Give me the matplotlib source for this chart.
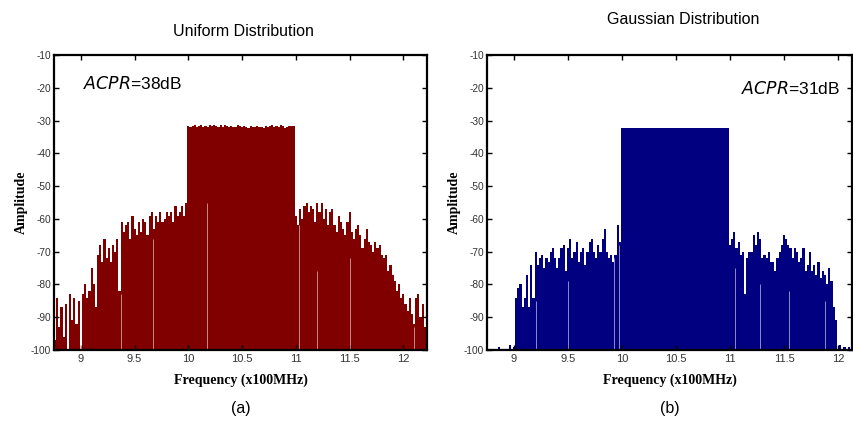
import numpy as np
import matplotlib
matplotlib.use('Agg')
import matplotlib.pyplot as plt

plt.rcParams['font.family'] = ['Liberation Sans', 'DejaVu Sans']
plt.rcParams['axes.unicode_minus'] = False

STEP = 0.02

# (a) uniform distribution (dB)
a_low_start = 8.76
a_low = [-97, -84, -93, -87, -96, -86, -100, -83, -91, -84, -92, -85, -100,
         -83, -80, -84, -82, -75, -80, -87, -71, -68, -73, -66, -72, -69, -73,
         -68, -70, -66, -82, -61, -64, -62, -61, -66, -59, -63, -65, -61, -64,
         -60, -61, -65, -59, -58, -63, -59, -61, -58, -61, -60, -58, -59, -58,
         -61, -56, -59, -58, -56, -59, -55]
a_band_start = 10.00
a_band = [-31.6, -31.9, -31.7, -31.5, -32.0, -31.8, -31.4, -31.9, -31.6, -32.1,
          -31.5, -31.8, -31.2, -31.7, -32.0, -31.5, -31.9, -31.3, -31.8, -32.1,
          -31.6, -31.9, -32.0, -31.5, -31.8, -32.1, -31.6, -31.9, -32.2, -31.7,
          -31.9, -32.0, -31.8, -32.1, -31.9, -32.2, -31.6, -32.0, -31.8, -31.5,
          -32.0, -31.7, -31.9, -31.4, -31.8, -32.3, -31.9, -31.6, -31.8, -31.7]
a_high_start = 11.00
a_high = [-59, -62, -57, -60, -56, -55, -58, -56, -57, -61, -55, -58, -55, -60,
          -57, -62, -58, -57, -62, -64, -59, -61, -63, -65, -61, -58, -64, -66,
          -63, -62, -65, -69, -66, -63, -67, -68, -70, -67, -69, -68, -71, -72,
          -71, -76, -74, -77, -79, -82, -80, -84, -83, -86, -88, -84, -89, -92,
          -84, -83, -90, -86, -93, -95]
a_null_f = [9.00, 9.37, 9.67, 10.17, 11.03, 11.20, 11.50, 12.10]
a_null_top = [-86, -83, -66, -55, -62, -76, -72, -93]

# (b) gaussian distribution
b_low_start = 8.76
b_low = [-100, -100, -100, -100, -100, -99, -100, -100, -100, -100, -98.5, -100,
         -99, -84, -81, -80, -87, -84, -77, -87, -74, -84, -70, -74, -72, -71,
         -75, -72, -73, -70, -69, -72, -75, -72, -69, -68, -76, -69, -66, -72,
         -70, -67, -73, -70, -69, -74, -70, -67, -66, -70, -72, -68, -70, -66,
         -63, -70, -72, -71, -73, -71, -62, -67]
b_band_start = 10.00
b_band = [-32.3, -32.4, -32.2, -32.3, -32.4, -32.3, -32.2, -32.4, -32.3, -32.3,
          -32.2, -32.4, -32.3, -32.3, -32.4, -32.2, -32.3, -32.4, -32.3, -32.2,
          -32.3, -32.4, -32.3, -32.2, -32.3, -32.4, -32.3, -32.3, -32.2, -32.4,
          -32.3, -32.2, -32.3, -32.4, -32.3, -32.3, -32.2, -32.4, -32.3, -32.3,
          -32.2, -32.3, -32.4, -32.3, -32.2, -32.3, -32.4, -32.3, -32.3, -32.2]
b_high_start = 11.00
b_high = [-68, -66, -64, -69, -67, -71, -70, -83, -72, -70, -70, -65, -68, -64,
          -66, -72, -71, -72, -70, -73, -73, -76, -72, -70, -68, -65, -66, -68,
          -69, -72, -69, -70, -73, -72, -69, -76, -74, -70, -76, -74, -77, -73,
          -78, -76, -77, -80, -75, -79, -87, -91,
          -99.7, -98.6, -100, -99.2, -100, -99.2, -100]
b_null_f = [9.20, 9.50, 9.93, 9.97, 11.05, 11.28, 11.55, 11.88]
b_null_top = [-85, -79, -72, -68, -75, -80, -82, -85]

panels = [
    dict(segs=[(a_low_start, a_low), (a_band_start, a_band), (a_high_start, a_high)],
         nf=a_null_f, nt=a_null_top, color='#800000', xlim=(8.75, 12.22),
         title='Uniform Distribution', ttl_x=0.285, ttl_y=0.925, acpr='38',
         acpr_x=0.078, acpr_y=0.905, acpr_ha='left', tag='(a)',
         rect=[0.0632, 0.1765, 0.4368, 0.694]),
    dict(segs=[(b_low_start, b_low), (b_band_start, b_band), (b_high_start, b_high)],
         nf=b_null_f, nt=b_null_top, color='#000080', xlim=(8.75, 12.13),
         title='Gaussian Distribution', ttl_x=0.80, ttl_y=0.953, acpr='31',
         acpr_x=0.967, acpr_y=0.885, acpr_ha='right', tag='(b)',
         rect=[0.5703, 0.1765, 0.4274, 0.694]),
]

fig = plt.figure(figsize=(8.54, 4.25), dpi=100)

for p in panels:
    ax = fig.add_axes(p['rect'])
    f_all, v_all = [], []
    for start, vals in p['segs']:
        f_all.extend(start + STEP * np.arange(len(vals)))
        v_all.extend(vals)
    ax.fill_between(f_all, v_all, -100, step='mid', color=p['color'], lw=0)
    ax.vlines(p['nf'], -100, p['nt'], color='white', lw=0.7, alpha=0.55)
    ax.axhline(-100, color='black', lw=1.5)

    ax.set_xlim(*p['xlim'])
    ax.set_ylim(-100, -10)
    ax.set_xticks([9, 9.5, 10, 10.5, 11, 11.5, 12])
    ax.set_xticklabels(['9', '9.5', '10', '10.5', '11', '11.5', '12'])
    ax.set_yticks(np.arange(-100, -9, 10))
    ax.tick_params(direction='in', top=True, right=True, length=3.5, width=1,
                   labelsize=8, labelcolor='#333333', pad=3)
    ax.tick_params(axis='y', labelsize=7.3, pad=2)
    for s in ax.spines.values():
        s.set_linewidth(1.6)

    ax.set_xlabel('Frequency (x100MHz)', family='Liberation Serif',
                  fontweight='bold', fontsize=10, labelpad=7)
    ax.set_ylabel('Amplitude', family='Liberation Serif', fontweight='bold',
                  fontsize=10, labelpad=2)

    ax.text(p['acpr_x'], p['acpr_y'], r'$\mathit{ACPR}$=' + p['acpr'] + 'dB',
            transform=ax.transAxes, ha=p['acpr_ha'], va='center', fontsize=12.5)

    cx = p['rect'][0] + p['rect'][2] / 2
    fig.text(p['ttl_x'], p['ttl_y'], p['title'], ha='center', va='center',
             fontsize=11.5)
    fig.text(cx, 0.04, p['tag'], ha='center', va='center', fontsize=11.5)

fig.savefig('out.png', dpi=100)
